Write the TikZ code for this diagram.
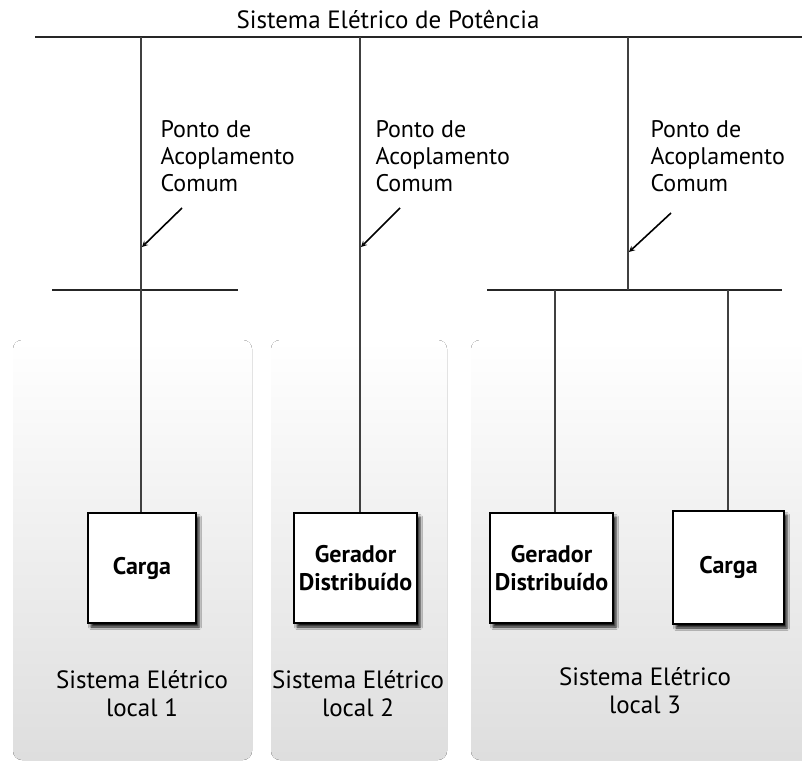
\documentclass[tikz,border=0pt]{standalone}
\usepackage{fontspec}
\setmainfont{PT Sans}
\usetikzlibrary{shadows.blur}

\begin{document}
\begin{tikzpicture}[x=1pt,y=-1pt,
	bus/.style={line width=2.8pt,black!85},
	fio/.style={line width=1.1pt,black!75},
	painel/.style={rounded corners=9pt,top color=white,bottom color=black!13},
	caixa/.style={draw,line width=1.1pt,fill=white,inner sep=0pt,align=center,
		font=\fontsize{24}{28}\selectfont\bfseries,
		blur shadow={shadow xshift=3pt,shadow yshift=-4pt,shadow opacity=90,shadow blur radius=2.5pt}},
	rotulo/.style={align=center,font=\fontsize{25}{28}\selectfont},
	pac/.style={align=left,anchor=north west,font=\fontsize{24}{27}\selectfont}]
\useasboundingbox (0,0) rectangle (802,762);

% paineis dos sistemas locais
\fill[painel] (13,340) rectangle (252,760);
\fill[painel] (271,340) rectangle (447,760);
\fill[painel] (471,340) rectangle (815,760);

% barramento principal
\node[rotulo] (sep) at (388,20) {Sistema Elétrico de Potência};
\coordinate (bA) at (35,37);
\coordinate (bB) at (802,37);
\draw[bus] (bA) -- (bB);

% barramentos locais
\coordinate (b1a) at (52,290);
\coordinate (b1b) at (238,290);
\coordinate (b3a) at (487,290);
\coordinate (b3b) at (782,290);
\draw[bus] (b1a) -- (b1b);
\draw[bus] (b3a) -- (b3b);

% cargas e geradores
\node[caixa,minimum width=108pt,minimum height=110pt] (carga1) at (142,568) {Carga};
\node[caixa,minimum width=123pt,minimum height=110pt] (ger2) at (355.5,568) {Gerador\\Distribuído};
\node[caixa,minimum width=123pt,minimum height=110pt] (ger3) at (551.5,568) {Gerador\\Distribuído};
\node[caixa,minimum width=111pt,minimum height=113pt] (carga3) at (728.5,567.5) {Carga};

% ligacoes
\coordinate (p1) at (141,37);
\coordinate (p2) at (360,37);
\coordinate (p3) at (628,37);
\coordinate (d3) at (555,290);
\coordinate (c3) at (728,290);
\draw[fio] (p1) -- (p1 |- carga1.north);
\draw[fio] (p2) -- (p2 |- ger2.north);
\draw[fio] (p3) -- (p3 |- b3a);
\draw[fio] (d3) -- (d3 |- ger3.north);
\draw[fio] (c3) -- (c3 |- carga3.north);

% pontos de acoplamento comum
\foreach \n/\x/\xa/\ya/\xp/\yp in {1/157/182/208/142/247, 2/372/400/208/361/247, 3/647/671/213/629/252}
	{
	\node[pac] (pac\n) at (\x,117) {Ponto de\\Acoplamento\\Comum};
	\coordinate (s\n) at (\xa,\ya);
	\coordinate (e\n) at (\xp,\yp);
	\draw[line width=1.6pt,-stealth] (s\n) -- (e\n);
	}

% rotulos dos sistemas locais
\node[rotulo] (sl1) at (142,694) {Sistema Elétrico\\local 1};
\node[rotulo] (sl2) at (358,694) {Sistema Elétrico\\local 2};
\node[rotulo] (sl3) at (645,691) {Sistema Elétrico\\local 3};
\end{tikzpicture}
\end{document}
